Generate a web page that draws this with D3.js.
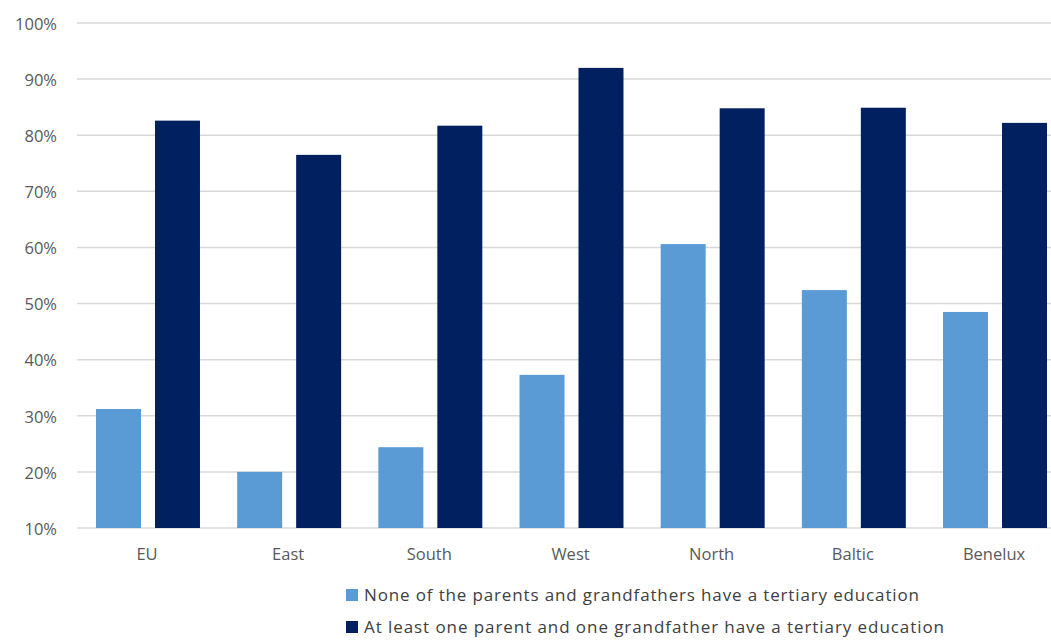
<!DOCTYPE html>
<html><head><meta charset="utf-8">
<script src="https://cdn.jsdelivr.net/npm/d3@7"></script>
<style>body{margin:0;background:#fff;} text{font-family:"Open Sans","DejaVu Sans",sans-serif;}</style>
</head><body>
<svg id="c" width="1051" height="640"></svg>
<script>
const categories = ["EU","East","South","West","North","Baltic","Benelux"];
const seriesNames = ["None of the parents and grandfathers have a tertiary education",
                     "At least one parent and one grandfather have a tertiary education"];
const noneValues = [31.2, 20.0, 24.4, 37.3, 60.6, 52.4, 48.5];
const atLeastValues = [82.6, 76.5, 81.7, 92.0, 84.8, 84.9, 82.2];
const yTicks = [10,20,30,40,50,60,70,80,90,100];
const colors = ["#5B9BD5","#002060"];

const svg = d3.select("#c");
const x = d3.scaleBand().domain(categories).range([77.4, 1065.6]).paddingInner(0).paddingOuter(0);
const y = d3.scaleLinear().domain([10,100]).range([528,23]);
const inner = d3.scaleBand().domain([0,1]).range([18.6, x.bandwidth()-18.6]).paddingInner(14/59).paddingOuter(0);

// gridlines
svg.append("g").selectAll("line").data(yTicks).join("line")
  .attr("x1",77).attr("x2",1051).attr("y1",d=>y(d)).attr("y2",d=>y(d))
  .attr("stroke","#d9d9d9").attr("stroke-width",1.5);

// y axis labels
const yAxis = d3.axisLeft(y).tickValues(yTicks).tickFormat(d=>d+"%").tickSize(0).tickPadding(0);
const ga = svg.append("g").attr("transform","translate(57,1)").call(yAxis);
ga.select(".domain").remove();
ga.selectAll("text").attr("fill","#595959").style("font-size","16.5px").style("font-family","'Open Sans',sans-serif");

const series = [noneValues, atLeastValues];
series.forEach((vals,si)=>{
  svg.append("g").selectAll("rect").data(vals).join("rect")
    .attr("x",(d,i)=>x(categories[i])+inner(si))
    .attr("width",inner.bandwidth())
    .attr("y",d=>y(d)).attr("height",d=>y(10)-y(d))
    .attr("fill",colors[si]);
});

// x axis labels
const xAxis = d3.axisBottom(x).tickSize(0).tickPadding(0);
const gx = svg.append("g").attr("transform","translate(-1,548)").call(xAxis);
gx.select(".domain").remove();
gx.selectAll("text").attr("fill","#595959").style("font-size","16.5px").style("font-family","'Open Sans',sans-serif");

// legend
const lg = svg.append("g");
const legendWidths = [555, 580];
seriesNames.forEach((n,i)=>{
  const yy = 601 + i*32;
  lg.append("rect").attr("x",346).attr("y",yy-12).attr("width",12).attr("height",12).attr("fill",colors[i]);
  lg.append("text").attr("x",364).attr("y",yy).attr("fill","#404040")
    .style("font-size","17px")
    .attr("textLength",legendWidths[i]).attr("lengthAdjust","spacing").text(n);
});
</script>
</body></html>
